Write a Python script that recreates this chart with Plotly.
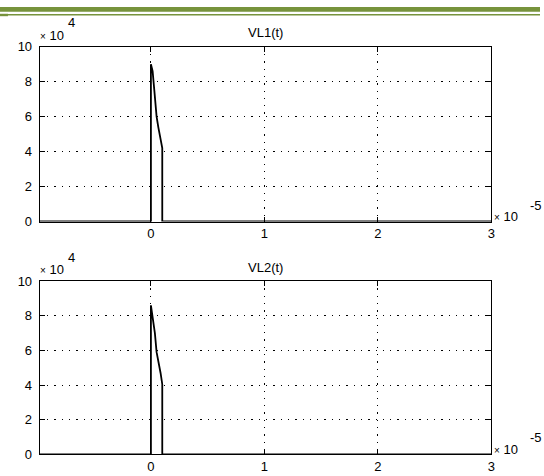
import plotly.graph_objects as go

W, H = 544, 476

# ---- data (time in seconds, voltage in volts) ----
t_vl1 = [-0.98e-5, 0.0, 0.0, 0.15e-6, 0.3e-6, 0.4e-6, 0.5e-6, 0.65e-6, 0.8e-6, 1.0e-6, 1.0e-6, 3.0e-5]
v_vl1 = [0, 0, 90000, 86000, 75000, 65000, 60000, 54000, 48000, 42000, 0, 0]

t_vl2 = [-0.98e-5, 0.0, 0.0, 0.15e-6, 0.35e-6, 0.5e-6, 0.7e-6, 0.85e-6, 1.0e-6, 1.0e-6, 3.0e-5]
v_vl2 = [0, 0, 86000, 80000, 70000, 59000, 53000, 47000, 40500, 0, 0]

x_tickvals = [0, 1e-5, 2e-5, 3e-5]
x_ticktext = ["0", "1", "2", "3"]
y_tickvals = [0, 20000, 40000, 60000, 80000, 100000]
y_ticktext = ["0", "2", "4", "6", "8", "10"]
titles = ["VL1(t)", "VL2(t)"]

FONT = "Liberation Sans"

def px(x):
    return x / W

def py(y):
    return 1 - y / H

# plot boxes in pixels (left, right, top, bottom)
L, R = 40, 495
boxes = [(41, 221.5), (283, 462)]

fig = go.Figure()
fig.add_trace(go.Scatter(x=t_vl1, y=v_vl1, mode="lines", line=dict(color="black", width=1.8),
                         xaxis="x", yaxis="y", showlegend=False, hoverinfo="skip"))
fig.add_trace(go.Scatter(x=t_vl2, y=v_vl2, mode="lines", line=dict(color="black", width=1.8),
                         xaxis="x2", yaxis="y2", showlegend=False, hoverinfo="skip"))

axis_common = dict(
    showline=True, linecolor="black", linewidth=1, mirror="allticks",
    ticks="inside", ticklen=5, tickcolor="black", tickwidth=1,
    showgrid=True, gridcolor="black", gridwidth=1, griddash="1.3px,6px",
    zeroline=False, tickfont=dict(family=FONT, size=13, color="black"),
    fixedrange=True,
)

layout = dict(
    width=W, height=H, margin=dict(l=0, r=0, t=0, b=0),
    paper_bgcolor="white", plot_bgcolor="white", showlegend=False,
)

for i, (top, bot) in enumerate(boxes):
    sfx = "" if i == 0 else str(i + 1)
    layout["xaxis" + sfx] = dict(
        axis_common, domain=[px(L), px(R)], range=[-0.98e-5, 3e-5],
        tickvals=x_tickvals, ticktext=x_ticktext, anchor="y" + sfx,
    )
    layout["yaxis" + sfx] = dict(
        axis_common, domain=[py(bot), py(top)], range=[0, 100000],
        tickvals=y_tickvals, ticktext=y_ticktext, anchor="x" + sfx,
        ticklabelstandoff=4,
    )

fig.update_layout(**layout)

ann = []
def text(x, y, s, size=13, xanchor="left"):
    ann.append(dict(x=px(x), y=py(y), xref="paper", yref="paper", text=s, showarrow=False,
                    xanchor=xanchor, yanchor="middle",
                    font=dict(family=FONT, size=size, color="black")))

for i, (top, bot) in enumerate(boxes):
    text((L + R) / 2, top - 14.5, titles[i], size=13, xanchor="center")
    text(38, top - 12, "<span style='font-size:10px'>×</span> 10", size=13)
    text(66, top - 24.5, "4", size=13)
    text(496, bot - 5, "<span style='font-size:10px'>×</span> 10", size=13)
    text(532, bot - 17, "-5", size=13)

fig.update_layout(annotations=ann)

# header decoration
green = "#77933C"
fig.add_shape(type="rect", xref="paper", yref="paper", x0=0, x1=1, y0=py(5), y1=1,
              fillcolor=green, line=dict(width=0), layer="above")
fig.add_shape(type="line", xref="paper", yref="paper", x0=0, x1=1, y0=py(8), y1=py(8),
              line=dict(color=green, width=1.5), layer="above")
fig.add_shape(type="rect", xref="paper", yref="paper", x0=0, x1=px(8), y0=py(9.5), y1=py(7),
              fillcolor=green, line=dict(width=0), layer="above")

fig.write_html("out.html", config={"displayModeBar": False},
               post_script="document.body.style.margin='0px';document.body.style.overflow='hidden';")
